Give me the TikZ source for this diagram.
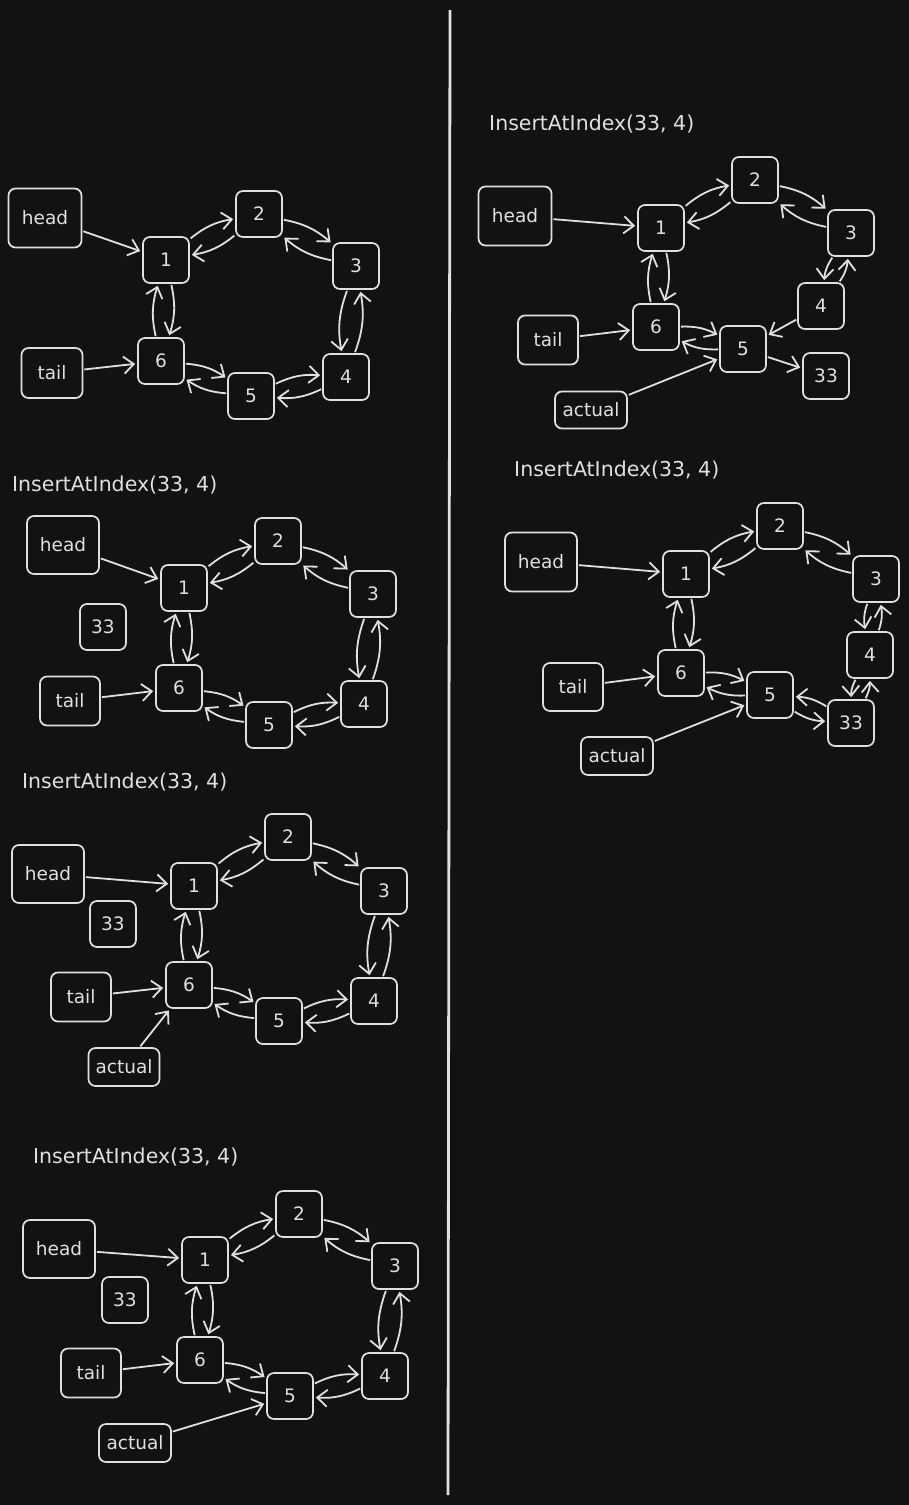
\documentclass[tikz,border=0pt]{standalone}
\usepackage{fontspec}
\setmainfont{DejaVu Sans}
\usetikzlibrary{arrows.meta}
\definecolor{bg}{HTML}{121212}
\definecolor{ink}{HTML}{E0E0E0}
% two links between a pair of nodes, one each way
\newcommand{\dlink}[3][left]{%
  \draw[link] (#2) to[bend #1=15] (#3);
  \draw[link] (#3) to[bend #1=15] (#2);}
\tikzset{
  box/.style={draw=ink, line width=1.7pt, rounded corners=7pt, minimum width=46pt,
    minimum height=46pt, inner sep=0pt, text=ink, font=\fontsize{18.5}{20}\selectfont},
  ptr/.style 2 args={box, minimum width=#1, minimum height=#2},
  link/.style={ink, line width=1.8pt, -{Straight Barb[length=10pt,width=17pt]},
    shorten >=2pt, shorten <=1pt},
  heading/.style={text=ink, anchor=west, inner sep=0pt, font=\fontsize{20.5}{22}\selectfont},
}
\begin{document}
\begin{tikzpicture}[x=1pt, y=-1pt]
	\fill[bg] (0,0) rectangle (909,1505);
	
	% divider between the two columns
	\coordinate (top) at (450,10);
	\coordinate (bot) at (448,1495);
	\draw[ink, line width=2.8pt] (top) -- (bot);
	
	% A: the list before the insert
	\foreach \n/\x/\y in {1/166/260, 2/259/214, 3/356/266, 4/346/377, 5/251/396, 6/161/361}
		\node[box] (A\n) at (\x,\y) {\n};
	\node[ptr={73pt}{59pt}] (Ahead) at (45,218) {head};
	\node[ptr={61pt}{50pt}] (Atail) at (52,373) {tail};
	\foreach \a/\b in {1/2, 2/3, 4/5, 5/6, 6/1} {\dlink{A\a}{A\b}}
	\dlink[right]{A3}{A4}
	\draw[link] (Ahead) -- (A1);
	\draw[link] (Atail) -- (A6);
	
	% B: new node 33
	\node[heading] (Btitle) at (12,485) {InsertAtIndex(33, 4)};
	\foreach \n/\x/\y in {1/184/588, 2/278/541, 3/373/594, 4/364/704, 5/269/725, 6/179/688}
		\node[box] (B\n) at (\x,\y) {\n};
	\node[box] (B33) at (103,627) {33};
	\node[ptr={72pt}{58pt}] (Bhead) at (63,545) {head};
	\node[ptr={60pt}{49pt}] (Btail) at (70,701) {tail};
	\foreach \a/\b in {1/2, 2/3, 4/5, 5/6, 6/1} {\dlink{B\a}{B\b}}
	\dlink[right]{B3}{B4}
	\draw[link] (Bhead) -- (B1);
	\draw[link] (Btail) -- (B6);
	
	% C: actual starts at the tail
	\node[heading] (Ctitle) at (22,782) {InsertAtIndex(33, 4)};
	\foreach \n/\x/\y in {1/194/886, 2/288/837, 3/384/891, 4/374/1001, 5/279/1021, 6/189/985}
		\node[box] (C\n) at (\x,\y) {\n};
	\node[box] (C33) at (113,924) {33};
	\node[ptr={72pt}{58pt}] (Chead) at (48,874) {head};
	\node[ptr={60pt}{49pt}] (Ctail) at (81,997) {tail};
	\node[ptr={71pt}{38pt}] (Cactual) at (124,1067) {actual};
	\foreach \a/\b in {1/2, 2/3, 4/5, 5/6, 6/1} {\dlink{C\a}{C\b}}
	\dlink[right]{C3}{C4}
	\draw[link] (Chead) -- (C1);
	\draw[link] (Ctail) -- (C6);
	\draw[link] (Cactual) -- (C6);
	
	% D: actual moved to 5
	\node[heading] (Dtitle) at (33,1157) {InsertAtIndex(33, 4)};
	\foreach \n/\x/\y in {1/205/1260, 2/299/1214, 3/395/1266, 4/385/1376, 5/290/1396, 6/200/1360}
		\node[box] (D\n) at (\x,\y) {\n};
	\node[box] (D33) at (125,1300) {33};
	\node[ptr={72pt}{58pt}] (Dhead) at (59,1249) {head};
	\node[ptr={60pt}{49pt}] (Dtail) at (91,1373) {tail};
	\node[ptr={72pt}{38pt}] (Dactual) at (135,1443) {actual};
	\foreach \a/\b in {1/2, 2/3, 4/5, 5/6, 6/1} {\dlink{D\a}{D\b}}
	\dlink[right]{D3}{D4}
	\draw[link] (Dhead) -- (D1);
	\draw[link] (Dtail) -- (D6);
	\draw[link] (Dactual) -- (D5);
	
	% E: 33 hooked after 5
	\node[heading] (Etitle) at (489,124) {InsertAtIndex(33, 4)};
	\foreach \n/\x/\y in {1/661/228, 2/755/180, 3/851/233, 4/821/306, 5/743/349, 6/656/327}
		\node[box] (E\n) at (\x,\y) {\n};
	\node[box] (E33) at (826,376) {33};
	\node[ptr={73pt}{59pt}] (Ehead) at (515,216) {head};
	\node[ptr={60pt}{49pt}] (Etail) at (548,340) {tail};
	\node[ptr={72pt}{37pt}] (Eactual) at (591,410) {actual};
	\foreach \a/\b in {1/2, 2/3, 5/6, 6/1} {\dlink{E\a}{E\b}}
	\dlink[right]{E3}{E4}
	\draw[link] (E4) -- (E5);
	\draw[link] (E5) -- (E33);
	\draw[link] (Ehead) -- (E1);
	\draw[link] (Etail) -- (E6);
	\draw[link] (Eactual) -- (E5);
	
	% F: 33 sits between 5 and 4
	\node[heading] (Ftitle) at (514,470) {InsertAtIndex(33, 4)};
	\foreach \n/\x/\y in {1/686/574, 2/780/526, 3/876/579, 4/870/655, 5/770/695, 6/681/673}
		\node[box] (F\n) at (\x,\y) {\n};
	\node[box] (F33) at (851,723) {33};
	\node[ptr={72pt}{59pt}] (Fhead) at (541,562) {head};
	\node[ptr={60pt}{48pt}] (Ftail) at (573,687) {tail};
	\node[ptr={72pt}{38pt}] (Factual) at (617,756) {actual};
	\foreach \a/\b in {1/2, 2/3, 5/6, 6/1} {\dlink{F\a}{F\b}}
	\dlink[right]{F3}{F4}
	\dlink[right]{F4}{F33}
	\dlink[right]{F33}{F5}
	\draw[link] (Fhead) -- (F1);
	\draw[link] (Ftail) -- (F6);
	\draw[link] (Factual) -- (F5);
\end{tikzpicture}
\end{document}
